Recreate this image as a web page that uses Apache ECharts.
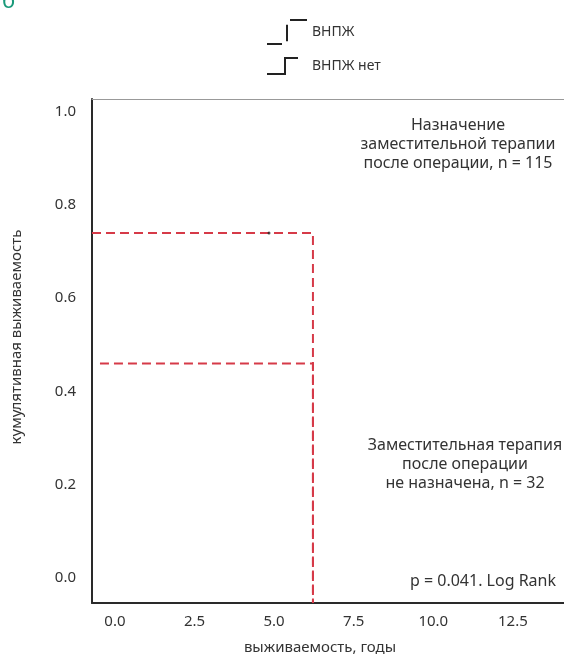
<!DOCTYPE html>
<html>
<head>
<meta charset="utf-8">
<script src="https://cdn.jsdelivr.net/npm/echarts@6/dist/echarts.min.js"></script>
<style>
html,body{margin:0;padding:0;background:#fff;}
#chart{width:564px;height:659px;}
</style>
</head>
<body>
<div id="chart"></div>
<script>
// ---- data ----
var seriesNames = ['ВНПЖ', 'ВНПЖ нет'];
var curveWith = [[-0.72, 0.74], [6.22, 0.74], [6.22, -0.054]];
var curveWithout = [[-0.47, 0.46], [6.22, 0.46], [6.22, -0.054]];
var censored = [[4.84, 0.74]];
var xTicks = [0, 2.5, 5, 7.5, 10, 12.5];
var yTicks = [0, 0.2, 0.4, 0.6, 0.8, 1.0];
var xName = 'выживаемость, годы';
var yName = 'кумулятивная выживаемость';
var noteTop = 'Назначение\nзаместительной терапии\nпосле операции, n = 115';
var noteBottom = 'Заместительная терапия\nпосле операции\nне назначена, n = 32';
var noteP = 'p = 0.041. Log Rank';

var FONT = '"Noto Sans", sans-serif';
var chart = echarts.init(document.getElementById('chart'), null, {renderer: 'canvas'});

var icon1 = 'path://M0,25h15v2h-15z M19,6h2v17h-2z M23,0h17v2h-17z';
var icon2 = 'path://M0,16h18v2h-18z M17,0h2v18h-2z M17,0h14v2h-14z';

chart.setOption({
  animation: false,
  backgroundColor: '#fff',
  title: {
    text: 'б', left: -3, top: -14,
    textStyle: {color: '#1a9a7a', fontSize: 22, fontWeight: 'normal', fontFamily: FONT}
  },
  legend: [{
    data: [{name: seriesNames[0], icon: icon1, itemStyle: {color: '#222', borderWidth: 0}}],
    left: 262, top: 14, itemWidth: 40, itemHeight: 26, selectedMode: false,
    symbolKeepAspect: false,
    textStyle: {color: '#333', fontSize: 14, fontFamily: FONT, padding: [4, 0, 0, 0]}
  }, {
    data: [{name: seriesNames[1], icon: icon2, itemStyle: {color: '#222', borderWidth: 0}}],
    left: 262, top: 52, itemWidth: 31, itemHeight: 18, selectedMode: false,
    symbolKeepAspect: false,
    textStyle: {color: '#333', fontSize: 14, fontFamily: FONT, padding: [3, 0, 0, 9]}
  }],
  grid: {left: 92, top: 99, width: 482, bottom: 56, containLabel: false, outerBoundsMode: 'none'},
  xAxis: [{
    type: 'value', min: -0.72, max: 14.42,
    name: xName, nameLocation: 'middle', nameGap: 37,
    nameTextStyle: {color: '#333', fontSize: 15, fontFamily: FONT, padding: [0, 26, 0, 0]},
    axisLine: {show: true, onZero: false, lineStyle: {color: '#2a2a2a', width: 2}},
    axisTick: {show: false},
    splitLine: {show: false},
    axisLabel: {
      customValues: xTicks, margin: 11, color: '#333', fontSize: 15, fontFamily: FONT,
      formatter: function (v) { return v.toFixed(1); }
    }
  }, {
    type: 'value', min: -0.72, max: 14.42, position: 'top',
    axisLine: {show: true, onZero: false, lineStyle: {color: '#999', width: 1}},
    axisTick: {show: false}, axisLabel: {show: false}, splitLine: {show: false}
  }],
  yAxis: {
    type: 'value', min: -0.054, max: 1.0275,
    name: yName, nameLocation: 'middle', nameGap: 68, nameRotate: 90,
    nameTextStyle: {color: '#333', fontSize: 15, fontFamily: FONT, padding: [0, 0, 0, 28]},
    axisLine: {show: true, onZero: false, lineStyle: {color: '#2a2a2a', width: 2}},
    axisTick: {show: false},
    splitLine: {show: false},
    axisLabel: {
      customValues: yTicks, margin: 16, color: '#333', fontSize: 15, fontFamily: FONT,
      formatter: function (v) { return v.toFixed(1); }
    }
  },
  series: [{
    name: seriesNames[0], type: 'line', data: curveWith, symbol: 'none',
    lineStyle: {color: '#d63a48', width: 2, type: [9, 5]}, itemStyle: {color: '#d63a48'}
  }, {
    name: seriesNames[1], type: 'line', data: curveWithout, symbol: 'none',
    lineStyle: {color: '#d63a48', width: 2, type: [9, 5]}, itemStyle: {color: '#d63a48'}
  }, {
    name: 'censored', type: 'scatter', data: censored, symbol: 'circle', symbolSize: 3,
    itemStyle: {color: '#222'}, z: 5
  }],
  graphic: [{
    type: 'text', silent: true, position: [458, 116],
    style: {text: noteTop, fill: '#333', font: '16px ' + FONT, textAlign: 'center', lineHeight: 19}
  }, {
    type: 'text', silent: true, position: [465, 436],
    style: {text: noteBottom, fill: '#333', font: '16px ' + FONT, textAlign: 'center', lineHeight: 19}
  }, {
    type: 'text', silent: true, position: [556, 572],
    style: {text: noteP, fill: '#333', font: '16px ' + FONT, textAlign: 'right', lineHeight: 19}
  }]
});
</script>
</body>
</html>
